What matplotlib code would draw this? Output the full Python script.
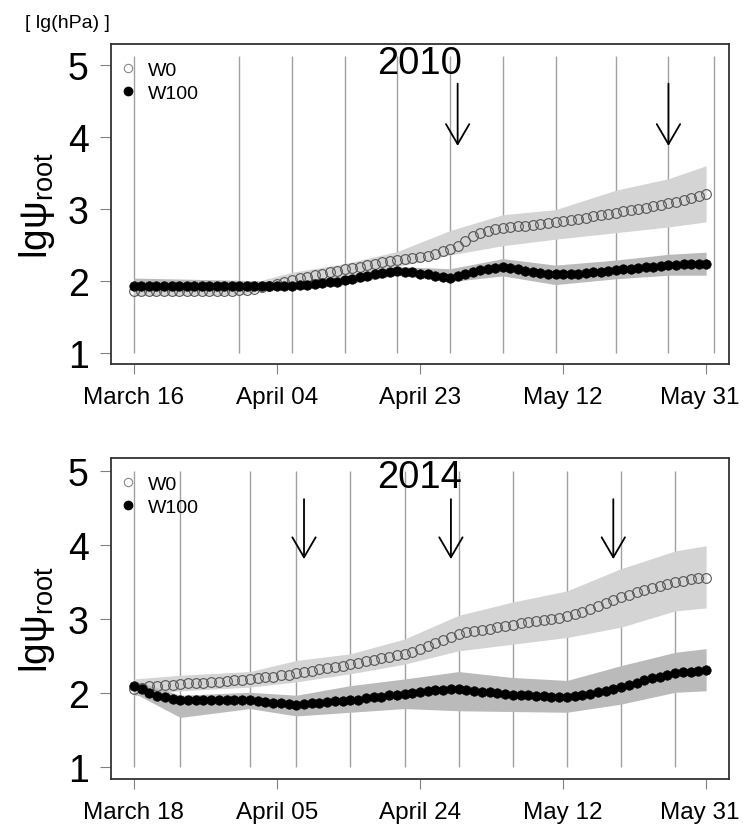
import numpy as np
import matplotlib
matplotlib.use("Agg")
import matplotlib.pyplot as plt
import matplotlib.transforms as mtransforms
from matplotlib.lines import Line2D

plt.rcParams['font.family'] = ['Liberation Sans', 'DejaVu Sans']
plt.rcParams['mathtext.fontset'] = 'custom'
plt.rcParams['mathtext.rm'] = 'Liberation Sans'
plt.rcParams['mathtext.it'] = 'Liberation Sans'

# ---- 2010 season: daily model values (March 16 .. May 31)
w0_2010 = [1.86, 1.86, 1.86, 1.86, 1.86, 1.86, 1.86, 1.86, 1.86, 1.86, 1.86, 1.86, 1.86, 1.86, 1.87, 1.88,
           1.89, 1.91, 1.93, 1.96, 1.99,
           2.02, 2.04, 2.06, 2.08, 2.10, 2.12, 2.14, 2.16, 2.18, 2.20,
           2.22, 2.24, 2.26, 2.28, 2.29, 2.30, 2.32, 2.33, 2.35, 2.38,
           2.41, 2.44, 2.49, 2.56, 2.62, 2.67, 2.70, 2.72, 2.74, 2.75,
           2.76, 2.77, 2.78, 2.79, 2.80, 2.82, 2.83, 2.85, 2.86, 2.88,
           2.90, 2.91, 2.93, 2.95, 2.97, 2.99, 3.00, 3.02, 3.04, 3.06,
           3.08, 3.10, 3.13, 3.15, 3.18, 3.21]
w100_2010 = [1.93, 1.93, 1.93, 1.93, 1.93, 1.93, 1.93, 1.93, 1.93, 1.93, 1.93, 1.93, 1.93, 1.93, 1.93, 1.93, 1.93, 1.93,
             1.93, 1.93, 1.93, 1.93, 1.94, 1.95, 1.96, 1.97, 1.98, 1.99,
             2.01, 2.03, 2.05, 2.07, 2.09, 2.11, 2.13, 2.14, 2.13, 2.12,
             2.10, 2.09, 2.07, 2.05, 2.04, 2.07, 2.10, 2.13, 2.15, 2.17,
             2.18, 2.19, 2.18, 2.16, 2.14, 2.12, 2.11, 2.10, 2.09, 2.09,
             2.10, 2.10, 2.11, 2.12, 2.13, 2.14, 2.15, 2.16, 2.17, 2.18,
             2.19, 2.20, 2.21, 2.22, 2.22, 2.23, 2.23, 2.24, 2.24]
# measurement days (days after March 16) and uncertainty bands
days_2010 = [0, 14, 21, 28, 35, 42, 49, 56, 64, 71, 76]
w0_lo_2010 = [1.80, 1.81, 1.93, 2.05, 2.20, 2.36, 2.49, 2.58, 2.67, 2.75, 2.82]
w0_hi_2010 = [1.93, 1.93, 2.12, 2.24, 2.41, 2.70, 2.92, 2.99, 3.26, 3.42, 3.60]
w100_lo_2010 = [1.85, 1.86, 1.88, 1.95, 2.08, 1.99, 2.07, 1.95, 2.03, 2.08, 2.08]
w100_hi_2010 = [2.04, 2.01, 1.99, 2.07, 2.20, 2.17, 2.31, 2.22, 2.29, 2.37, 2.40]
grid_2010 = [0, 14, 21, 28, 35, 42, 49, 56, 64, 71, 77]
arrows_2010 = [43, 71]
labels_2010 = ['March 16', 'April 04', 'April 23', 'May 12', 'May 31']

# ---- 2014 season: daily model values (March 18 .. May 31)
w0_2014 = [2.05, 2.07, 2.09, 2.10, 2.11, 2.11, 2.12,
           2.13, 2.13, 2.14, 2.15, 2.15, 2.16, 2.17, 2.18,
           2.19, 2.20, 2.21, 2.22, 2.24, 2.25,
           2.27, 2.28, 2.30, 2.32, 2.34, 2.35, 2.37,
           2.39, 2.41, 2.43, 2.45, 2.47, 2.49, 2.51,
           2.53, 2.56, 2.60, 2.64, 2.68, 2.72, 2.76,
           2.80, 2.82, 2.84, 2.85, 2.87, 2.89, 2.90,
           2.92, 2.94, 2.96, 2.97, 2.99, 3.00, 3.02,
           3.04, 3.07, 3.10, 3.14, 3.18, 3.22, 3.26,
           3.30, 3.33, 3.36, 3.39, 3.42, 3.45, 3.48,
           3.50, 3.52, 3.54, 3.55, 3.56]
w100_2014 = [2.09, 2.06, 2.00, 1.96, 1.94, 1.92, 1.90,
             1.90, 1.90, 1.90, 1.90, 1.90, 1.90, 1.90, 1.90,
             1.90, 1.89, 1.88, 1.87, 1.86, 1.85,
             1.84, 1.85, 1.86, 1.87, 1.88, 1.89, 1.89,
             1.90, 1.91, 1.93, 1.94, 1.95, 1.97, 1.98,
             1.99, 2.00, 2.02, 2.03, 2.04, 2.04, 2.05,
             2.05, 2.04, 2.03, 2.02, 2.01, 2.00, 1.99,
             1.98, 1.97, 1.97, 1.96, 1.96, 1.95, 1.95,
             1.95, 1.96, 1.97, 1.99, 2.01, 2.03, 2.05,
             2.08, 2.11, 2.14, 2.17, 2.20, 2.22, 2.25,
             2.27, 2.28, 2.29, 2.30, 2.31]
days_2014 = [0, 6, 15, 21, 28, 35, 42, 49, 56, 63, 70, 74]
w0_lo_2014 = [1.96, 2.03, 2.08, 2.15, 2.26, 2.39, 2.57, 2.66, 2.75, 2.89, 3.11, 3.15]
w0_hi_2014 = [2.19, 2.24, 2.29, 2.44, 2.53, 2.73, 3.05, 3.23, 3.38, 3.68, 3.92, 3.99]
w100_lo_2014 = [2.00, 1.67, 1.79, 1.69, 1.74, 1.79, 1.76, 1.75, 1.74, 1.85, 2.01, 2.03]
w100_hi_2014 = [2.17, 1.97, 2.01, 1.97, 2.10, 2.19, 2.29, 2.21, 2.17, 2.37, 2.55, 2.60]
grid_2014 = [0, 6, 15, 21, 28, 35, 42, 49, 56, 63, 70]
arrows_2014 = [22, 41, 62]
labels_2014 = ['March 18', 'April 05', 'April 24', 'May 12', 'May 31']

panels = [
    dict(year='2010', w0=w0_2010, w100=w100_2010, days=days_2010,
         w0_lo=w0_lo_2010, w0_hi=w0_hi_2010, w100_lo=w100_lo_2010, w100_hi=w100_hi_2010,
         grid=grid_2010, grid_top=5.12, arrows=arrows_2010, arrow_y=(4.74, 3.875),
         labels=labels_2010, ylim=(0.847, 5.29), rect=[0.149, 0.5597, 0.8295, 0.386]),
    dict(year='2014', w0=w0_2014, w100=w100_2014, days=days_2014,
         w0_lo=w0_lo_2014, w0_hi=w0_hi_2014, w100_lo=w100_lo_2014, w100_hi=w100_hi_2014,
         grid=grid_2014, grid_top=5.0, arrows=arrows_2014, arrow_y=(4.62, 3.81),
         labels=labels_2014, ylim=(0.838, 5.176), rect=[0.149, 0.0591, 0.8295, 0.3872]),
]

fig = plt.figure(figsize=(7.45, 8.29), dpi=100)

for p in panels:
    ax = fig.add_axes(p['rect'])
    n = len(p['w0'])
    x = np.arange(n)
    pad = 0.04 * (n - 1)
    ax.set_xlim(-pad, n - 1 + pad)
    ax.set_ylim(*p['ylim'])

    # sampling dates
    ax.vlines(p['grid'], 1, p['grid_top'], color='#a0a0a0', lw=1.0, zorder=1)

    # uncertainty bands
    ax.fill_between(p['days'], p['w0_lo'], p['w0_hi'], color='#d4d4d4', lw=0, zorder=2)
    ax.fill_between(p['days'], p['w100_lo'], p['w100_hi'], color='#bababa', lw=0, zorder=3)

    ax.plot(x, p['w0'], 'o', ms=7, mfc='none', mec='#555555', mew=0.8, zorder=4)
    ax.plot(x, p['w100'], 'o', ms=6.8, mfc='black', mec='black', mew=0.5, zorder=5)

    for d in p['arrows']:
        ax.annotate('', xy=(d, p['arrow_y'][1]), xytext=(d, p['arrow_y'][0]),
                    arrowprops=dict(arrowstyle='->, head_length=0.72, head_width=0.42',
                                    mutation_scale=20, lw=1.3, color='black',
                                    shrinkA=0, shrinkB=0), zorder=6)

    ax.text(0.499, 0.94, p['year'], transform=ax.transAxes, ha='center', va='center',
            fontsize=27.5, zorder=7)

    ax.set_yticks([1, 2, 3, 4, 5])
    ax.set_xticks(np.linspace(0, n - 1, 5))
    ax.set_xticklabels(p['labels'])
    ax.tick_params(axis='y', labelsize=27, length=8, width=0.8, color='#808080', pad=8)
    ax.tick_params(axis='x', labelsize=17.5, length=7.5, width=0.8, color='#808080', pad=8)
    # last date label sits a little left of its tick, as in the original
    last = ax.get_xticklabels()[-1]
    last.set_transform(last.get_transform() + mtransforms.ScaledTranslation(-6 / 100, 0, fig.dpi_scale_trans))
    for s in ax.spines.values():
        s.set_color('#333333')
        s.set_linewidth(1.3)

    ax.set_ylabel(r'lgψ$_{\mathrm{root}}$', fontsize=28, labelpad=8)

    handles = [Line2D([], [], ls='none', marker='o', ms=6, mfc='none', mec='#888888', mew=0.8),
               Line2D([], [], ls='none', marker='o', ms=6, mfc='black', mec='black')]
    ax.legend(handles, ['W0', 'W100'], loc='upper left', bbox_to_anchor=(0.015, 0.946),
              frameon=False, fontsize=14, borderaxespad=0, borderpad=0,
              handlelength=0.8, handletextpad=0.6, labelspacing=0.27)

fig.text(0.034, 0.972, '[ lg(hPa) ]', fontsize=14, ha='left', va='center')

fig.savefig('out.png', dpi=100)
